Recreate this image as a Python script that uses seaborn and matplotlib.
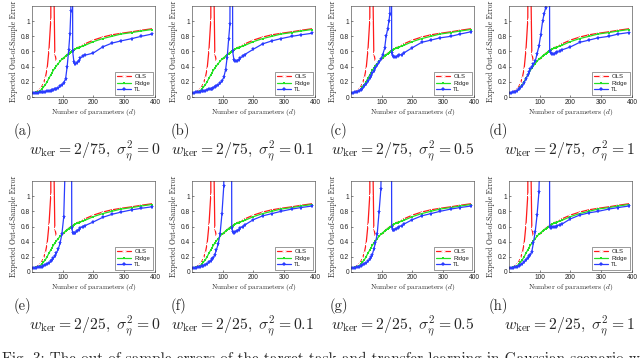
import numpy as np
import pandas as pd
import seaborn as sns
import matplotlib.pyplot as plt

# number of parameters (shared grid)
d = [2, 8, 14, 20, 26, 32, 38, 44, 50, 56, 62, 66, 70, 75, 80, 86, 92, 98, 104, 110,
     115, 120, 124, 127, 130, 133, 137, 141, 146, 152, 158, 165, 172, 200, 230, 260, 290, 325, 355, 390]

ols = [0.05, 0.06, 0.07, 0.08, 0.10, 0.13, 0.18, 0.25, 0.37, 0.62, 1.02, 9.0, 2.0, 0.58, 0.47, 0.46, 0.47, 0.49, 0.51, 0.54,
       0.56, 0.58, 0.59, 0.60, 0.61, 0.62, 0.63, 0.64, 0.65, 0.66, 0.67, 0.68, 0.70, 0.75, 0.79, 0.82, 0.84, 0.86, 0.88, 0.90]
ridge = [0.05, 0.055, 0.06, 0.07, 0.08, 0.10, 0.13, 0.16, 0.20, 0.25, 0.29, 0.32, 0.35, 0.38, 0.41, 0.44, 0.47, 0.50, 0.52, 0.54,
         0.56, 0.57, 0.58, 0.59, 0.60, 0.61, 0.62, 0.63, 0.64, 0.65, 0.66, 0.67, 0.68, 0.73, 0.77, 0.80, 0.83, 0.85, 0.87, 0.89]

tl_a = [0.05, 0.05, 0.05, 0.055, 0.06, 0.06, 0.065, 0.07, 0.075, 0.08, 0.085, 0.09, 0.095, 0.10, 0.11, 0.12, 0.14, 0.16, 0.19, 0.24,
        0.40, 0.62, 0.83, 1.14, 8.0, 0.60, 0.46, 0.44, 0.45, 0.48, 0.51, 0.54, 0.55, 0.58, 0.66, 0.71, 0.74, 0.77, 0.80, 0.83]
tl_b = [0.05, 0.055, 0.06, 0.065, 0.07, 0.075, 0.08, 0.085, 0.09, 0.10, 0.105, 0.11, 0.12, 0.13, 0.14, 0.16, 0.18, 0.21, 0.26, 0.36,
        0.52, 0.77, 0.96, 4.0, 6.0, 0.60, 0.49, 0.47, 0.48, 0.49, 0.51, 0.54, 0.56, 0.63, 0.70, 0.74, 0.77, 0.80, 0.82, 0.84]
tl_c = [0.05, 0.055, 0.06, 0.07, 0.08, 0.09, 0.11, 0.14, 0.17, 0.21, 0.25, 0.28, 0.31, 0.34, 0.38, 0.42, 0.46, 0.50, 0.56, 0.64,
        0.80, 0.90, 1.00, 1.10, 6.0, 0.58, 0.54, 0.53, 0.53, 0.54, 0.55, 0.56, 0.58, 0.65, 0.72, 0.75, 0.78, 0.80, 0.83, 0.86]
tl_d = [0.05, 0.055, 0.06, 0.07, 0.08, 0.10, 0.12, 0.15, 0.19, 0.24, 0.29, 0.33, 0.37, 0.40, 0.43, 0.47, 0.57, 0.67, 0.82, 1.00,
        1.10, 1.18, 1.40, 2.5, 5.0, 0.60, 0.58, 0.57, 0.57, 0.58, 0.59, 0.60, 0.62, 0.66, 0.72, 0.75, 0.78, 0.80, 0.83, 0.85]
tl_e = [0.05, 0.05, 0.055, 0.06, 0.065, 0.07, 0.08, 0.09, 0.10, 0.12, 0.14, 0.16, 0.18, 0.21, 0.25, 0.30, 0.38, 0.50, 0.73, 1.6,
        4.0, 6.0, 6.0, 6.0, 0.58, 0.52, 0.51, 0.52, 0.54, 0.56, 0.58, 0.60, 0.61, 0.66, 0.72, 0.76, 0.79, 0.82, 0.84, 0.86]
tl_f = [0.05, 0.05, 0.055, 0.06, 0.07, 0.075, 0.085, 0.095, 0.11, 0.13, 0.15, 0.17, 0.19, 0.23, 0.29, 0.37, 0.50, 0.76, 1.13, 4.0,
        6.0, 6.0, 6.0, 6.0, 0.58, 0.53, 0.52, 0.53, 0.54, 0.56, 0.58, 0.60, 0.62, 0.69, 0.74, 0.77, 0.80, 0.83, 0.85, 0.87]
tl_g = [0.05, 0.05, 0.055, 0.06, 0.07, 0.08, 0.09, 0.10, 0.12, 0.14, 0.17, 0.20, 0.23, 0.30, 0.38, 0.50, 0.79, 1.10, 3.0, 6.0,
        6.0, 6.0, 6.0, 6.0, 6.0, 0.60, 0.55, 0.56, 0.57, 0.58, 0.60, 0.61, 0.63, 0.69, 0.74, 0.77, 0.80, 0.83, 0.85, 0.87]
tl_h = [0.05, 0.05, 0.055, 0.06, 0.07, 0.08, 0.09, 0.11, 0.13, 0.16, 0.19, 0.21, 0.23, 0.27, 0.38, 0.53, 0.75, 1.05, 2.0, 6.0,
        6.0, 6.0, 6.0, 6.0, 6.0, 0.60, 0.58, 0.59, 0.60, 0.60, 0.61, 0.62, 0.63, 0.70, 0.75, 0.78, 0.80, 0.83, 0.85, 0.87]

tl_series = [tl_a, tl_b, tl_c, tl_d, tl_e, tl_f, tl_g, tl_h]
panel_tags = ['(a)', '(b)', '(c)', '(d)', '(e)', '(f)', '(g)', '(h)']
w_ker = ['2/75', '2/75', '2/75', '2/75', '2/25', '2/25', '2/25', '2/25']
sigma2 = ['0', '0.1', '0.5', '1', '0', '0.1', '0.5', '1']

sns.set_style('ticks')
plt.rcParams['mathtext.fontset'] = 'cm'
plt.rcParams['font.family'] = ['Liberation Sans', 'DejaVu Sans']
plt.rcParams['xtick.direction'] = 'in'
plt.rcParams['ytick.direction'] = 'in'

W, H = 640, 358
fig = plt.figure(figsize=(W / 100, H / 100), dpi=100)

col_left = [32, 192, 351, 509]
row_top = [6, 181]
tag_x = [14, 171, 330, 489]
cap_x = [29, 171, 331, 504]
ax_w, ax_h = 123, 91

for i in range(8):
    r, c = divmod(i, 4)
    ax = fig.add_axes([col_left[c] / W, 1 - (row_top[r] + ax_h) / H, ax_w / W, ax_h / H])
    sns.lineplot(x=d, y=ols, ax=ax, color='#ff1a1a', lw=0.9, marker='+', markersize=3.4,
                 markeredgewidth=0.7, label='OLS')
    sns.lineplot(x=d, y=ridge, ax=ax, color='#22e022', lw=0.9, marker='s', markersize=1.8,
                 markeredgewidth=0, label='Ridge')
    sns.lineplot(x=d, y=tl_series[i], ax=ax, color='#2a3cff', lw=0.9, marker='*', markersize=3.6,
                 markeredgewidth=0, label='TL')
    ax.set_xlim(1, 400)
    ax.set_ylim(0, 1.2)
    ax.set_xticks([100, 200, 300, 400])
    ax.set_yticks([0, 0.2, 0.4, 0.6, 0.8, 1])
    ax.set_yticklabels(['0', '0.2', '0.4', '0.6', '0.8', '1'])
    ax.tick_params(labelsize=4.8, length=1.5, width=0.4, pad=1.5, colors='#222222')
    for s in ax.spines.values():
        s.set_visible(True)
        s.set_linewidth(0.4)
        s.set_color('#333333')
    ax.set_xlabel('Number of parameters ($d$)', family='cmr10', fontsize=5.3, labelpad=1)
    ax.set_ylabel('Expected Out-of-Sample Error', family='cmr10', fontsize=5.5, labelpad=2)
    leg = ax.legend(loc='lower right', fontsize=4.3, frameon=True, fancybox=False,
                    edgecolor='#222222', borderpad=0.4, handlelength=2.4, labelspacing=0.2,
                    borderaxespad=0.4, handletextpad=0.5)
    leg.get_frame().set_linewidth(0.4)

    ty = row_top[r] + 125
    fig.text(tag_x[c] / W, 1 - ty / H, panel_tags[i], family='cmr10', fontsize=10.5, va='center')
    fig.text(cap_x[c] / W, 1 - (ty + 20) / H,
             r'$w_{\mathrm{ker}} = %s,\ \sigma_{\eta}^{2} = %s$' % (w_ker[i], sigma2[i]),
             fontsize=11.3, va='center')

fig.text(2 / W, 1 - 352 / H,
         'Fig. 3: The out-of-sample errors of the target task and transfer learning in Gaussian scenario with',
         family='cmr10', fontsize=11, va='top')

fig.savefig('out.png', dpi=100)
